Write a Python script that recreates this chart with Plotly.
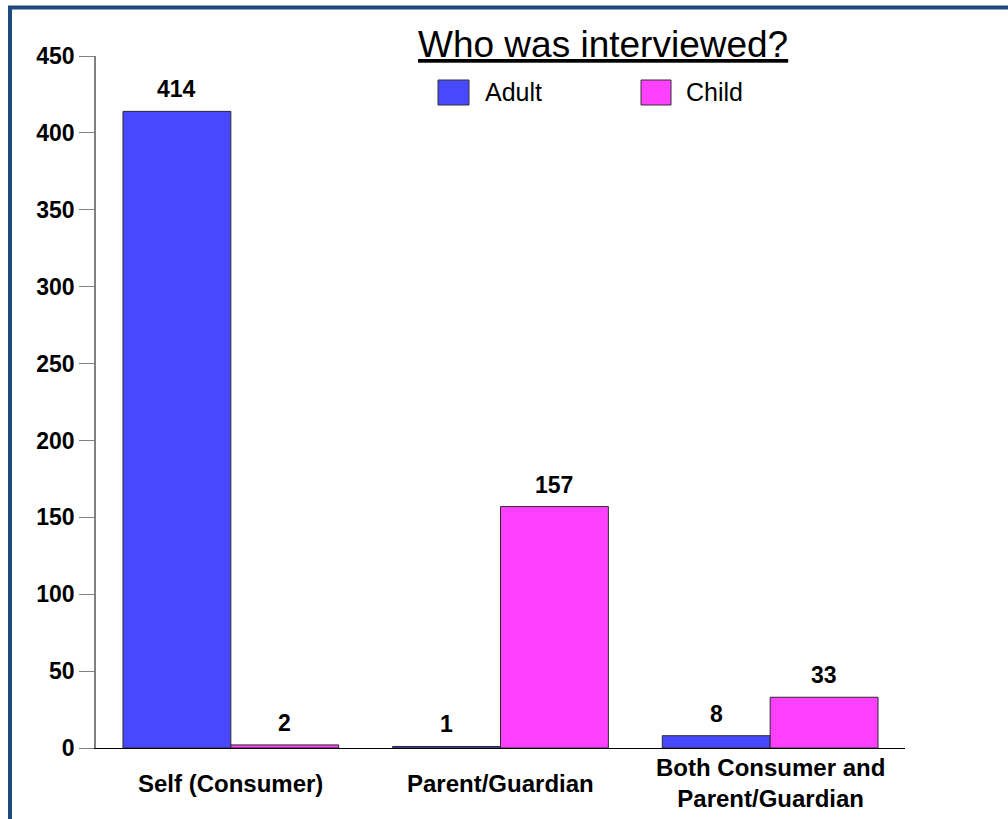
import plotly.graph_objects as go

# Survey counts: who was interviewed, by respondent type
categories = ["Self (Consumer)", "Parent/Guardian", "Both Consumer and Parent/Guardian"]
category_labels = ["Self (Consumer)", "Parent/Guardian", "Both Consumer and<br>Parent/Guardian"]
adult = [414, 1, 8]
child = [2, 157, 33]
series_names = ["Adult", "Child"]
y_ticks = [0, 50, 100, 150, 200, 250, 300, 350, 400, 450]

W, H = 1008, 819
L, R, T, B = 96, 103, 56, 71
PW, PH = W - L - R, H - T - B

BLUE = "#4848FF"
MAGENTA = "#FF40FF"
FRAME = "#1F4A7E"
FONT = "Liberation Sans, Arial, sans-serif"


def px_x(px):
    return (px - L) / PW


def px_y(py):
    return (H - B - py) / PH


fig = go.Figure()
for name, vals, col in [(series_names[0], adult, BLUE), (series_names[1], child, MAGENTA)]:
    fig.add_trace(go.Bar(
        x=categories, y=vals, name=name,
        marker=dict(color=col, line=dict(color="#2a2a2a", width=1)),
        showlegend=False,
    ))

annotations = []
# value labels above each bar
cat_px = PW / len(categories)
for vals, shift in [(adult, -0.2), (child, 0.2)]:
    for c, v in zip(categories, vals):
        annotations.append(dict(
            x=c, y=v, xref="x", yref="y", text=f"<b>{v}</b>", showarrow=False,
            xshift=shift * cat_px, yanchor="bottom", yshift=7,
            font=dict(family=FONT, size=23, color="black"),
        ))

# category labels under the axis
for c, lab in zip(categories, category_labels):
    annotations.append(dict(
        x=c, y=0, xref="x", yref="y", text=f"<b>{lab}</b>", showarrow=False,
        yanchor="middle", yshift=-35,
        font=dict(family=FONT, size=24, color="black"),
    ))

# title
annotations.append(dict(
    x=px_x(603), y=px_y(44), xref="paper", yref="paper",
    text="<u>Who was interviewed?</u>", showarrow=False,
    xanchor="center", yanchor="middle",
    font=dict(family=FONT, size=37, color="black"),
))

shapes = []
# legend swatches and labels
for name, col, x0, x1, tx in [(series_names[0], BLUE, 438, 469, 483), (series_names[1], MAGENTA, 641, 671, 684)]:
    shapes.append(dict(type="rect", xref="paper", yref="paper",
                       x0=px_x(x0), x1=px_x(x1), y0=px_y(105), y1=px_y(80),
                       fillcolor=col, line=dict(color="#333333", width=1)))
    annotations.append(dict(
        x=px_x(tx), y=px_y(92), xref="paper", yref="paper", text=name,
        showarrow=False, xanchor="left", yanchor="middle",
        font=dict(family=FONT, size=25, color="black"),
    ))

# outer frame (top and left edges)
shapes.append(dict(type="line", xref="paper", yref="paper",
                   x0=px_x(8), x1=px_x(W + 5), y0=px_y(7.5), y1=px_y(7.5),
                   line=dict(color=FRAME, width=4)))
shapes.append(dict(type="line", xref="paper", yref="paper",
                   x0=px_x(10), x1=px_x(10), y0=px_y(6), y1=px_y(H + 5),
                   line=dict(color=FRAME, width=4)))

fig.update_layout(
    width=W, height=H,
    margin=dict(l=L, r=R, t=T, b=B),
    paper_bgcolor="white", plot_bgcolor="white",
    barmode="group", bargap=0.2, bargroupgap=0,
    showlegend=False,
    annotations=annotations, shapes=shapes,
    font=dict(family=FONT, color="black"),
    xaxis=dict(
        type="category", range=[-0.5, 2.5],
        showline=True, linecolor="black", linewidth=1,
        showticklabels=False, ticks="", showgrid=False, zeroline=False,
    ),
    yaxis=dict(
        range=[0, 450], tickvals=y_ticks, ticktext=[f"<b>{t}</b>" for t in y_ticks],
        showline=True, linecolor="#808080", linewidth=1.5,
        ticks="outside", ticklen=15, tickcolor="#808080", tickwidth=1,
        showgrid=False, zeroline=False,
        tickfont=dict(family=FONT, size=23, color="black"),
    ),
)

fig.write_html("out.html")
